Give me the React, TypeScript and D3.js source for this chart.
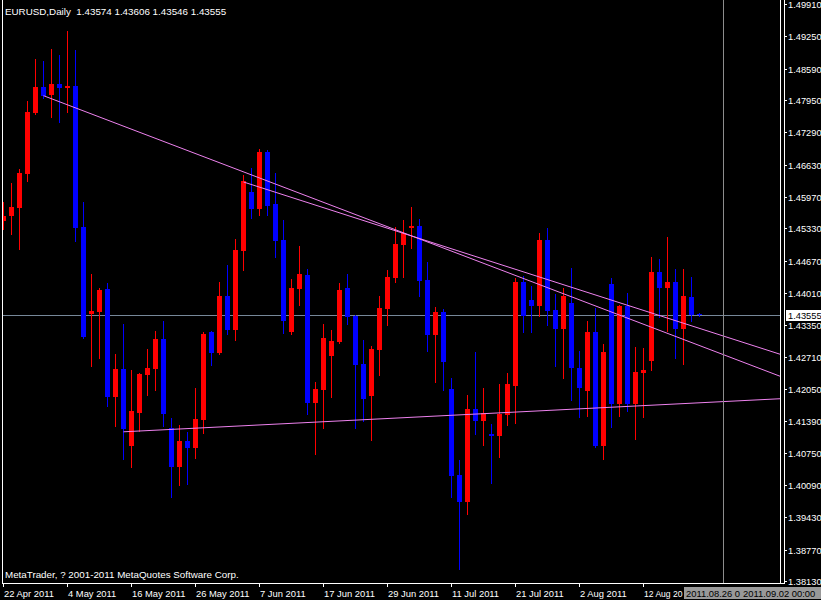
import React, { useEffect } from "react";
import * as d3 from "d3";

// Daily EURUSD bars, 22 Apr 2011 onwards (one per trading day)
const opens = [
  1.4548, 1.45588, 1.45751, 1.46445, 1.47685, 1.48216, 1.48052, 1.48277, 1.48201, 1.48236,
  1.45357, 1.43587, 1.43628, 1.44091, 1.41887, 1.42458, 1.40892, 1.4156, 1.42336, 1.42458,
  1.43071, 1.41254, 1.40458, 1.40988, 1.40851, 1.41423, 1.43214, 1.42785, 1.43949, 1.43254,
  1.44867, 1.46072, 1.45725, 1.46888, 1.45827, 1.45092, 1.43214, 1.44091, 1.44377, 1.41764,
  1.42029, 1.42724, 1.43009, 1.44112, 1.4354, 1.4256, 1.41907, 1.42846, 1.43683, 1.44316,
  1.4499, 1.45337, 1.45378, 1.44275, 1.43152, 1.43622, 1.4205, 1.40294, 1.39743, 1.41642,
  1.41396, 1.41131, 1.4109, 1.41519, 1.42111, 1.44234, 1.43867, 1.43744, 1.45092, 1.43663,
  1.43277, 1.43806, 1.42479, 1.42009, 1.43214, 1.40886, 1.44193, 1.41744, 1.43744, 1.41744,
  1.42376, 1.42622, 1.44439, 1.44112, 1.44234, 1.43277, 1.43928, 1.43574,
];
const highs = [
  1.45868, 1.46256, 1.46541, 1.47936, 1.48787, 1.48746, 1.48991, 1.48869, 1.49359, 1.48971,
  1.45868, 1.44398, 1.44112, 1.44214, 1.42764, 1.43377, 1.42438, 1.42383, 1.42867, 1.43234,
  1.43438, 1.41458, 1.41315, 1.41172, 1.4207, 1.43214, 1.43234, 1.44234, 1.44581, 1.45112,
  1.46419, 1.46562, 1.4695, 1.46929, 1.4646, 1.455, 1.44296, 1.44969, 1.445, 1.42193,
  1.43377, 1.43254, 1.44214, 1.44398, 1.43561, 1.4305, 1.42928, 1.43949, 1.44479, 1.45357,
  1.455, 1.45766, 1.45521, 1.44643, 1.43724, 1.43683, 1.42274, 1.406, 1.41927, 1.42805,
  1.4207, 1.41335, 1.42152, 1.42376, 1.44316, 1.44357, 1.44153, 1.45235, 1.45337, 1.43989,
  1.44112, 1.4452, 1.42826, 1.43438, 1.43704, 1.4297, 1.44316, 1.43765, 1.4401, 1.42907,
  1.42887, 1.44745, 1.44704, 1.45153, 1.445, 1.445, 1.44336, 1.43606,
];
const lows = [
  1.45316, 1.45214, 1.44908, 1.46302, 1.47664, 1.47997, 1.47609, 1.47507, 1.47711, 1.45071,
  1.43091, 1.42525, 1.42689, 1.41709, 1.41301, 1.40629, 1.40464, 1.41192, 1.41927, 1.42029,
  1.41301, 1.39845, 1.4009, 1.40116, 1.40649, 1.41152, 1.4254, 1.42764, 1.43173, 1.4305,
  1.44479, 1.45541, 1.45602, 1.45602, 1.44745, 1.43193, 1.43173, 1.43765, 1.41539, 1.40723,
  1.41254, 1.41887, 1.42989, 1.43377, 1.41254, 1.41396, 1.4101, 1.42336, 1.43357, 1.44234,
  1.44336, 1.44929, 1.43949, 1.42826, 1.42193, 1.42029, 1.39845, 1.38375, 1.39498, 1.41131,
  1.40907, 1.40131, 1.40662, 1.41315, 1.41356, 1.43214, 1.43214, 1.4354, 1.43357, 1.42519,
  1.42274, 1.41825, 1.41478, 1.41499, 1.40866, 1.40621, 1.41274, 1.41499, 1.41601, 1.41029,
  1.41478, 1.42438, 1.4352, 1.43234, 1.42683, 1.4256, 1.43438, 1.43546,
];
const closes = [
  1.45582, 1.45766, 1.4646, 1.47705, 1.48216, 1.48038, 1.48277, 1.48201, 1.48236, 1.45343,
  1.43112, 1.43642, 1.44071, 1.41887, 1.42458, 1.41233, 1.41601, 1.42362, 1.42479, 1.43071,
  1.41546, 1.40458, 1.40988, 1.40851, 1.41437, 1.43173, 1.42785, 1.43949, 1.43254, 1.44888,
  1.46296, 1.45725, 1.46888, 1.45786, 1.45071, 1.43438, 1.44112, 1.44398, 1.41764, 1.4205,
  1.43091, 1.4303, 1.44071, 1.4352, 1.4254, 1.41846, 1.42867, 1.43704, 1.44336, 1.4501,
  1.45235, 1.45378, 1.44254, 1.43152, 1.43622, 1.42601, 1.40274, 1.39743, 1.41642, 1.41396,
  1.4156, 1.4109, 1.41539, 1.42154, 1.44234, 1.4354, 1.43744, 1.45092, 1.43642, 1.43277,
  1.43949, 1.42479, 1.4207, 1.43214, 1.40886, 1.42805, 1.41744, 1.43744, 1.41744, 1.42397,
  1.42438, 1.44439, 1.44112, 1.44234, 1.43277, 1.43949, 1.43561, 1.43555,
];

// x-axis date labels, one every 8 bars starting at bar 0 (last one is cut by the time box)
const dateLabels = [
  "22 Apr 2011", "4 May 2011", "16 May 2011", "26 May 2011", "7 Jun 2011", "17 Jun 2011",
  "29 Jun 2011", "11 Jul 2011", "21 Jul 2011", "2 Aug 2011", "12 Aug 20",
];
const dateLabelStep = 8;

const priceTicks = [
  1.4991, 1.4925, 1.4859, 1.4795, 1.4729, 1.4663, 1.4597, 1.4533, 1.4467, 1.4401,
  1.4335, 1.4271, 1.4205, 1.4139, 1.4075, 1.4009, 1.3943, 1.3877, 1.3813,
];

// trend lines: [bar, price] anchors, extended to the right edge
const trendFromBar = [5, 30, 15];
const trendFromPrice = [1.48038, 1.46276, 1.41176];
const trendToBar = [86, 86, 86];
const trendToPrice = [1.42999, 1.4334, 1.4176];

const headerText = "EURUSD,Daily  1.43574 1.43606 1.43546 1.43555";
const bidPrice = 1.43555;
const vLineBar = 90;
const vLineLabel = "2011.08.26 0";
const vLineLabel2 = "2011.09.02 00:00";
const copyright = "MetaTrader, ? 2001-2011 MetaQuotes Software Corp.";

const FONT = "'Liberation Sans', Arial, sans-serif";

export default function App() {
  useEffect(() => {
    document.body.style.margin = "0";
    document.body.style.background = "#000";
  }, []);

  const W = 821;
  const H = 600;
  const plotRight = 780;
  const axisX = 784.5;
  const axisY = 583.5;
  const boxLeft = 684;

  const x = d3.scaleLinear().domain([0, 97]).range([3.5, 779.5]);
  const y = d3.scaleLinear().domain([1.3813, 1.4991]).range([581, 4]);

  const bars = opens.map((o, i) => ({ o, h: highs[i], l: lows[i], c: closes[i], i }));

  const bidY = Math.floor(y(bidPrice)) + 0.5;

  const trend = trendFromBar.map((b, k) => {
    const x1 = x(b);
    const y1 = y(trendFromPrice[k]);
    const x2 = x(trendToBar[k]);
    const y2 = y(trendToPrice[k]);
    const slope = (y2 - y1) / (x2 - x1);
    const xe = plotRight + 2;
    return { x1, y1, x2: xe, y2: y1 + slope * (xe - x1) };
  });

  return (
    <svg
      width={W}
      height={H}
      style={{ position: "absolute", left: 0, top: 0, background: "#000", display: "block" }}
      fontFamily={FONT}
    >
      <defs>
        <clipPath id="plot">
          <rect x={3} y={0} width={plotRight - 3} height={583} />
        </clipPath>
      </defs>
      <rect x={0} y={0} width={W} height={H} fill="#000" />

      <text x={5} y={15} fill="#fff" fontSize={9.8} style={{ whiteSpace: "pre" }}>
        {headerText}
      </text>

      <g clipPath="url(#plot)">
        {/* bid line */}
        <line x1={2} x2={axisX} y1={bidY} y2={bidY} stroke="#778899" strokeWidth={1} />
        {bars.map((b) => {
          const cx = x(b.i);
          const up = b.c >= b.o;
          const col = up ? "#ff0000" : "#0000ff";
          const top = Math.round(y(Math.max(b.o, b.c)));
          const bot = Math.round(y(Math.min(b.o, b.c)));
          const hy = Math.round(y(b.h));
          const ly = Math.round(y(b.l));
          return (
            <g key={b.i}>
              <line x1={cx} x2={cx} y1={hy} y2={ly + 1} stroke={col} strokeWidth={1} />
              <rect x={cx - 2.5} y={top} width={5} height={Math.max(1, bot - top)} fill={col} />
            </g>
          );
        })}
        {trend.map((t, k) => (
          <line key={k} x1={t.x1} y1={t.y1} x2={t.x2} y2={t.y2} stroke="#ee82ee" strokeWidth={1} />
        ))}
      </g>
      {/* vertical line object */}
      <line x1={x(vLineBar)} x2={x(vLineBar)} y1={0} y2={axisY} stroke="#8c8c8c" strokeWidth={1} />

      {/* frame */}
      <line x1={2.5} x2={2.5} y1={0} y2={axisY} stroke="#fff" />
      <line x1={780.5} x2={780.5} y1={0} y2={axisY} stroke="#fff" />
      <line x1={axisX} x2={axisX} y1={0} y2={axisY} stroke="#fff" />
      <line x1={2} x2={axisX + 0.5} y1={axisY} y2={axisY} stroke="#fff" />

      <text x={5} y={578} fill="#fff" fontSize={9.8}>
        {copyright}
      </text>

      {/* price axis */}
      {priceTicks.map((p) => {
        const ty = Math.round(y(p)) + 0.5;
        return (
          <g key={p}>
            <line x1={axisX} x2={787} y1={ty} y2={ty} stroke="#fff" />
            <text x={788} y={ty + 3.5} fill="#fff" fontSize={9.3}>
              {p.toFixed(5)}
            </text>
          </g>
        );
      })}
      <rect x={786} y={bidY - 5.5} width={35} height={11} fill="#fff" />
      <text x={788} y={bidY + 3.5} fill="#000" fontSize={9.3}>
        {bidPrice.toFixed(5)}
      </text>

      {/* time axis */}
      {dateLabels.map((d, k) => {
        const tx = x(k * dateLabelStep);
        const last = k === dateLabels.length - 1;
        return (
          <g key={d}>
            <line x1={tx} x2={tx} y1={axisY} y2={587} stroke="#fff" />
            <text
              x={tx + 0.5}
              y={597}
              fill="#fff"
              fontSize={9.4}
              {...(last ? { textLength: boxLeft - tx - 2, lengthAdjust: "spacingAndGlyphs" } : {})}
            >
              {d}
            </text>
          </g>
        );
      })}
      <rect x={boxLeft} y={587} width={57} height={12} fill="#999" />
      <text x={boxLeft + 2} y={597} fill="#000" fontSize={9.4}>
        {vLineLabel}
      </text>
      <rect x={741} y={587} width={80} height={12} fill="#999" />
      <text x={743} y={597} fill="#000" fontSize={9.4}>
        {vLineLabel2}
      </text>
    </svg>
  );
}
